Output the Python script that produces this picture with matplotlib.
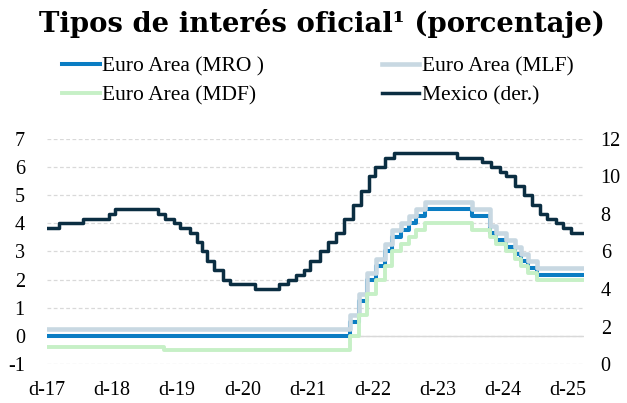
import matplotlib
matplotlib.use("Agg")
import matplotlib.pyplot as plt
import matplotlib.dates as mdates
import pandas as pd

# ---------------- data ----------------
start_date = "2017-12-01"
end_date = "2026-03-01"

tick_dates = ["2017-12-01", "2018-12-01", "2019-12-01", "2020-12-01", "2021-12-01",
              "2022-12-01", "2023-12-01", "2024-12-01", "2025-12-01"]
tick_labels = ["d-17", "d-18", "d-19", "d-20", "d-21", "d-22", "d-23", "d-24", "d-25"]

# ECB decision dates (change points)
ecb_dates = ["2017-12-01", "2022-07-27", "2022-09-14", "2022-11-02", "2022-12-21",
             "2023-02-08", "2023-03-22", "2023-05-10", "2023-06-21", "2023-08-02",
             "2023-09-20", "2024-06-12", "2024-09-18", "2024-10-23", "2024-12-18",
             "2025-02-05", "2025-03-12", "2025-04-23", "2025-06-11", "2026-03-01"]
mro = [0.00, 0.50, 1.25, 2.00, 2.50, 3.00, 3.50, 3.75, 4.00, 4.25,
       4.50, 4.25, 3.65, 3.40, 3.15, 2.90, 2.65, 2.40, 2.15, 2.15]
mlf = [0.25, 0.75, 1.50, 2.25, 2.75, 3.25, 3.75, 4.00, 4.25, 4.50,
       4.75, 4.50, 3.90, 3.65, 3.40, 3.15, 2.90, 2.65, 2.40, 2.40]

mdf_dates = ["2017-12-01", "2019-09-18", "2022-07-27", "2022-09-14", "2022-11-02",
             "2022-12-21", "2023-02-08", "2023-03-22", "2023-05-10", "2023-06-21",
             "2023-08-02", "2023-09-20", "2024-06-12", "2024-09-18", "2024-10-23",
             "2024-12-18", "2025-02-05", "2025-03-12", "2025-04-23", "2025-06-11",
             "2026-03-01"]
mdf = [-0.40, -0.50, 0.00, 0.75, 1.50, 2.00, 2.50, 3.00, 3.25, 3.50,
       3.75, 4.00, 3.75, 3.50, 3.25, 3.00, 2.75, 2.50, 2.25, 2.00, 2.00]

# Banxico decision dates (change points), right axis
mx_dates = ["2017-12-01", "2018-02-08", "2018-06-21", "2018-11-15", "2018-12-20",
            "2019-08-15", "2019-09-26", "2019-11-14", "2019-12-19", "2020-02-13",
            "2020-03-20", "2020-04-21", "2020-05-14", "2020-06-25", "2020-08-13",
            "2020-09-24", "2021-02-11", "2021-06-24", "2021-08-12", "2021-09-30",
            "2021-11-11", "2021-12-16", "2022-02-10", "2022-03-24", "2022-05-12",
            "2022-06-23", "2022-08-11", "2022-09-29", "2022-11-10", "2022-12-15",
            "2023-02-09", "2023-03-30", "2024-03-21", "2024-08-08", "2024-09-26",
            "2024-11-14", "2024-12-19", "2025-02-06", "2025-03-27", "2025-05-15",
            "2025-06-26", "2025-08-07", "2025-09-25", "2025-11-06", "2025-12-18",
            "2026-03-01"]
mexico = [7.25, 7.50, 7.75, 8.00, 8.25, 8.00, 7.75, 7.50, 7.25, 7.00,
          6.50, 6.00, 5.50, 5.00, 4.50, 4.25, 4.00, 4.25, 4.50, 4.75,
          5.00, 5.50, 6.00, 6.50, 7.00, 7.75, 8.50, 9.25, 10.00, 10.50,
          11.00, 11.25, 11.00, 10.75, 10.50, 10.25, 10.00, 9.50, 9.00, 8.50,
          8.00, 7.75, 7.50, 7.25, 7.00, 7.00]

left_ticks = [-1, 0, 1, 2, 3, 4, 5, 6, 7]
right_ticks = [0, 2, 4, 6, 8, 10, 12]

title = "Tipos de interés oficial¹ (porcentaje)"
labels = ["Euro Area (MRO )", "Euro Area (MLF)", "Euro Area (MDF)", "Mexico (der.)"]

# ---------------- styling ----------------
c_mro = "#0A7DC3"
c_mlf = "#C8D8E2"
c_mdf = "#C6F0C6"
c_mx = "#0B2E42"
grid_c = "#D9D9D9"
serif = ["Liberation Serif", "DejaVu Serif"]

plt.rcParams["font.family"] = serif

fig = plt.figure(figsize=(6.27, 4.03), dpi=100)
W, H = 627, 403
x0, x1, ytop, ybot = 47, 584, 139, 364
ax = fig.add_axes([x0 / W, 1 - ybot / H, (x1 - x0) / W, (ybot - ytop) / H])
ax2 = ax.twinx()

d = lambda lst: mdates.date2num(pd.to_datetime(lst))

l1, = ax.plot(d(ecb_dates), mro, drawstyle="steps-post", color=c_mro, lw=2.9, zorder=3)
l2, = ax.plot(d(ecb_dates), mlf, drawstyle="steps-post", color=c_mlf, lw=3.3, zorder=4)
l3, = ax.plot(d(mdf_dates), mdf, drawstyle="steps-post", color=c_mdf, lw=2.8, zorder=5)
l4, = ax2.plot(d(mx_dates), mexico, drawstyle="steps-post", color=c_mx, lw=2.5, zorder=3)

ax.set_xlim(d([start_date])[0], d([end_date])[0])
ax.set_ylim(-1, 7)
ax2.set_ylim(0, 12)

ax.set_yticks(left_ticks)
ax.set_yticklabels([str(t) for t in left_ticks])
ax2.set_yticks(right_ticks)
ax2.set_yticklabels([str(t) for t in right_ticks])
ax.set_xticks(d(tick_dates))
ax.set_xticklabels(tick_labels)

for a in (ax, ax2):
    for s in a.spines.values():
        s.set_visible(False)

ax.yaxis.grid(True, linestyle=(0, (3, 2)), color=grid_c, lw=0.9, zorder=0)
ax.set_axisbelow(True)
ax.axhline(0, color=grid_c, lw=1.0, zorder=1)

ax.tick_params(axis="y", length=0, pad=16, labelsize=14.5)
ax2.tick_params(axis="y", length=0, pad=12, labelsize=14.5)
ax.tick_params(axis="x", length=0, pad=12, labelsize=14.5)

fig.text(322 / W, 1 - 23 / H, title, ha="center", va="center",
         fontsize=19.8, fontweight="bold", family=["DejaVu Serif"])

# row-major order: MRO, MLF on first row; MDF, Mexico on second row
fig.legend([l1, l3, l2, l4], [labels[0], labels[2], labels[1], labels[3]],
           ncol=2, loc="center left",
           bbox_to_anchor=(62 / W, 1 - 81 / H), frameon=False,
           fontsize=15.5, handlelength=1.75, handletextpad=0.12,
           columnspacing=5.45, labelspacing=0.38, borderpad=0, borderaxespad=0)

fig.savefig("out.png", dpi=100)
